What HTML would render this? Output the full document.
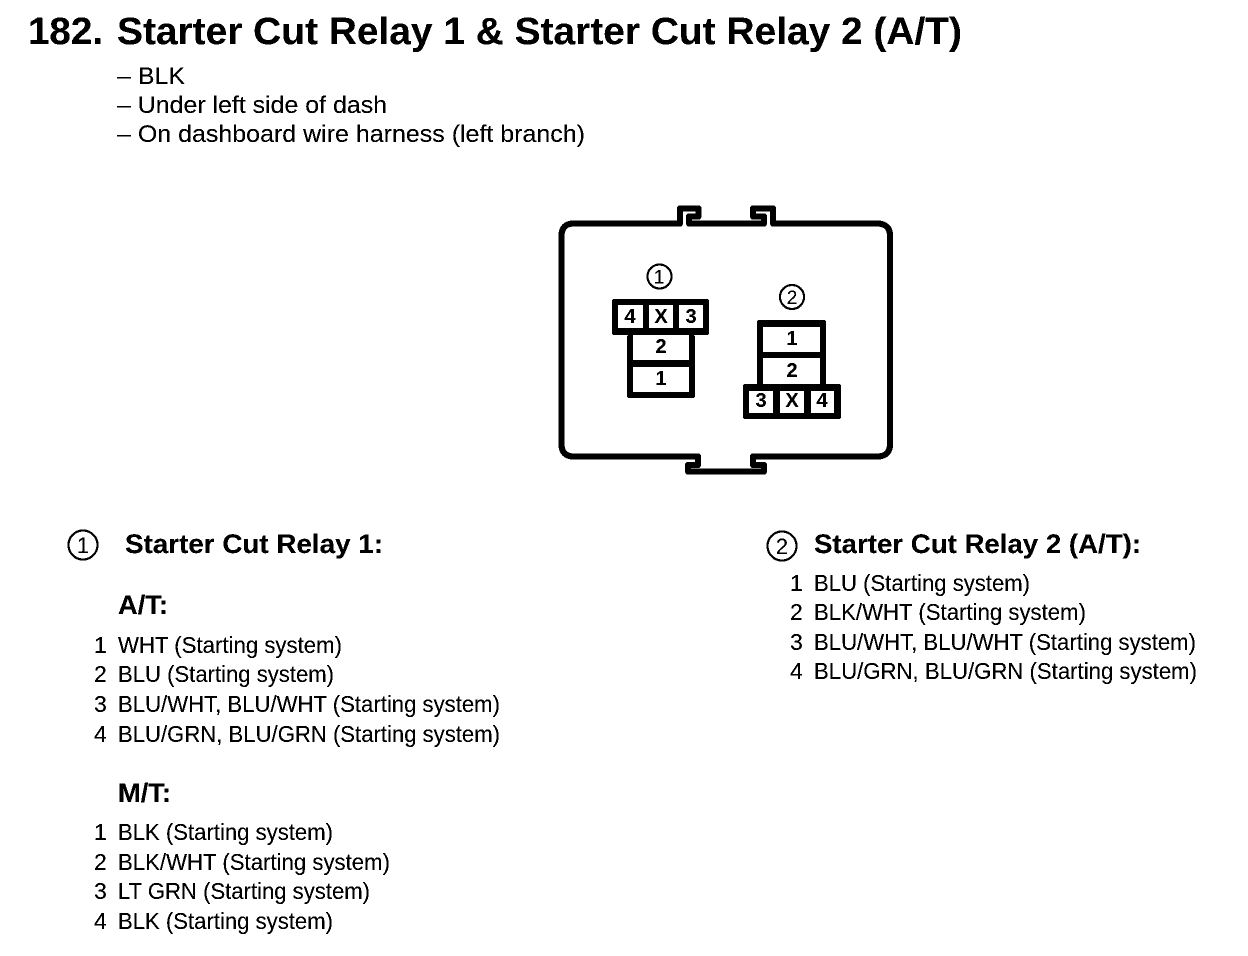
<!DOCTYPE html>
<html><head><meta charset="utf-8"><style>
html,body{margin:0;padding:0;background:#fff;width:1248px;height:956px;overflow:hidden}
svg{display:block}
text{font-family:"Liberation Sans",sans-serif;fill:#000}
.t{font-size:38px;font-weight:bold}
.h{font-size:27px;font-weight:bold}
.b{font-size:24px}
.r{font-size:23px}
.c{font-size:20px;font-weight:bold;text-anchor:middle}
</style></head><body>
<svg width="1248" height="956" viewBox="0 0 1248 956" xmlns="http://www.w3.org/2000/svg">
<defs><filter id="bw" x="0" y="0" width="100%" height="100%" filterUnits="objectBoundingBox" color-interpolation-filters="sRGB"><feComponentTransfer><feFuncR type="discrete" tableValues="0 0 1"/><feFuncG type="discrete" tableValues="0 0 1"/><feFuncB type="discrete" tableValues="0 0 1"/></feComponentTransfer></filter></defs>
<g filter="url(#bw)">
<rect width="1248" height="956" fill="#fff"/>
<text class="t" x="28" y="44" textLength="75" lengthAdjust="spacingAndGlyphs">182.</text>
<text class="t" x="117" y="44" textLength="845" lengthAdjust="spacingAndGlyphs">Starter Cut Relay 1 &amp; Starter Cut Relay 2 (A/T)</text>
<text class="b" x="117" y="84" textLength="68" lengthAdjust="spacingAndGlyphs">– BLK</text>
<text class="b" x="117" y="113" textLength="270" lengthAdjust="spacingAndGlyphs">– Under left side of dash</text>
<text class="b" x="117" y="142" textLength="468" lengthAdjust="spacingAndGlyphs">– On dashboard wire harness (left branch)</text>

<path fill="none" stroke="#000" stroke-width="6" stroke-linejoin="round" stroke-linecap="round" d="M680 223.5H574Q561.5 223.5 561.5 236V444Q561.5 456.5 574 456.5H698V465H688V471.5H764V465H753V456.5H877Q890 456.5 890 444V236Q890 223.5 877 223.5H773V208.5H753V216.5H764V223.5H689V216.5H698.500V208.5H680Z"/>

<rect x="612" y="299" width="97" height="36" rx="2" fill="#000"/>
<rect x="618" y="305" width="25" height="23" fill="#fff"/>
<rect x="649" y="305" width="24" height="23" fill="#fff"/>
<rect x="679" y="305" width="24" height="23" fill="#fff"/>
<rect x="627" y="335" width="68" height="63" rx="2" fill="#000"/>
<rect x="633" y="335" width="56" height="25" fill="#fff"/>
<rect x="633" y="367" width="56" height="25" fill="#fff"/>
<text class="c" x="630" y="323">4</text>
<text class="c" x="661" y="323">X</text>
<text class="c" x="691" y="323">3</text>
<text class="c" x="661" y="353">2</text>
<text class="c" x="661" y="385">1</text>
<circle cx="659.500" cy="276.500" r="12" fill="none" stroke="#000" stroke-width="2"/>
<text x="659" y="283.500" font-size="19" text-anchor="middle">1</text>

<rect x="757" y="320" width="69" height="70" rx="2" fill="#000"/>
<rect x="763" y="327" width="57" height="25" fill="#fff"/>
<rect x="763" y="358" width="57" height="26" fill="#fff"/>
<rect x="743" y="384" width="98" height="35" rx="2" fill="#000"/>
<rect x="749" y="391" width="24" height="22" fill="#fff"/>
<rect x="780" y="391" width="24" height="22" fill="#fff"/>
<rect x="811" y="391" width="23" height="22" fill="#fff"/>
<text class="c" x="792" y="345">1</text>
<text class="c" x="792" y="377">2</text>
<text class="c" x="761" y="407">3</text>
<text class="c" x="792" y="407">X</text>
<text class="c" x="822" y="407">4</text>
<circle cx="792" cy="297" r="12" fill="none" stroke="#000" stroke-width="2"/>
<text x="792" y="304" font-size="19" text-anchor="middle">2</text>

<circle cx="83" cy="545" r="14.500" fill="none" stroke="#000" stroke-width="2"/>
<text x="83" y="553" font-size="22" text-anchor="middle">1</text>
<text class="h" x="125" y="553" textLength="258" lengthAdjust="spacingAndGlyphs">Starter Cut Relay 1:</text>
<text class="h" x="118" y="614" textLength="50" lengthAdjust="spacingAndGlyphs">A/T:</text>
<text class="r" x="94" y="653">1</text><text class="r" x="118" y="653" textLength="224" lengthAdjust="spacingAndGlyphs">WHT (Starting system)</text>
<text class="r" x="94" y="682">2</text><text class="r" x="118" y="682" textLength="216" lengthAdjust="spacingAndGlyphs">BLU (Starting system)</text>
<text class="r" x="94" y="712">3</text><text class="r" x="118" y="712" textLength="382" lengthAdjust="spacingAndGlyphs">BLU/WHT, BLU/WHT (Starting system)</text>
<text class="r" x="94" y="742">4</text><text class="r" x="118" y="742" textLength="382" lengthAdjust="spacingAndGlyphs">BLU/GRN, BLU/GRN (Starting system)</text>
<text class="h" x="118" y="802" textLength="53" lengthAdjust="spacingAndGlyphs">M/T:</text>
<text class="r" x="94" y="840">1</text><text class="r" x="118" y="840" textLength="215" lengthAdjust="spacingAndGlyphs">BLK (Starting system)</text>
<text class="r" x="94" y="870">2</text><text class="r" x="118" y="870" textLength="272" lengthAdjust="spacingAndGlyphs">BLK/WHT (Starting system)</text>
<text class="r" x="94" y="899">3</text><text class="r" x="118" y="899" textLength="252" lengthAdjust="spacingAndGlyphs">LT GRN (Starting system)</text>
<text class="r" x="94" y="929">4</text><text class="r" x="118" y="929" textLength="215" lengthAdjust="spacingAndGlyphs">BLK (Starting system)</text>

<circle cx="782" cy="546" r="14.500" fill="none" stroke="#000" stroke-width="2"/>
<text x="782" y="554" font-size="22" text-anchor="middle">2</text>
<text class="h" x="814" y="553" textLength="327" lengthAdjust="spacingAndGlyphs">Starter Cut Relay 2 (A/T):</text>
<text class="r" x="790" y="591">1</text><text class="r" x="814" y="591" textLength="216" lengthAdjust="spacingAndGlyphs">BLU (Starting system)</text>
<text class="r" x="790" y="620">2</text><text class="r" x="814" y="620" textLength="272" lengthAdjust="spacingAndGlyphs">BLK/WHT (Starting system)</text>
<text class="r" x="790" y="650">3</text><text class="r" x="814" y="650" textLength="382" lengthAdjust="spacingAndGlyphs">BLU/WHT, BLU/WHT (Starting system)</text>
<text class="r" x="790" y="679">4</text><text class="r" x="814" y="679" textLength="383" lengthAdjust="spacingAndGlyphs">BLU/GRN, BLU/GRN (Starting system)</text>
</g>
</svg>
</body></html>
